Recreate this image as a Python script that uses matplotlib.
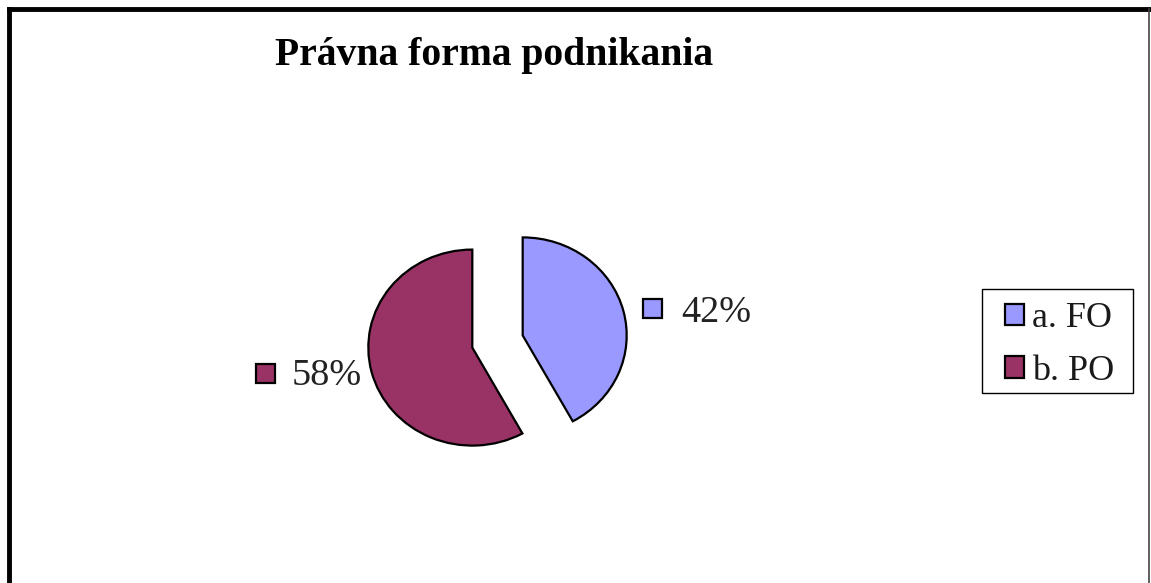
import matplotlib
matplotlib.use("Agg")
import matplotlib.pyplot as plt
from matplotlib.patches import Rectangle
from matplotlib.lines import Line2D

title = "Právna forma podnikania"
categories = ["a. FO", "b. PO"]
values = [42, 58]
colors = ["#9999FF", "#993366"]

W, H = 1151, 583
fig = plt.figure(figsize=(W / 100, H / 100), dpi=100)
plt.rcParams['font.family'] = ['Liberation Serif', 'DejaVu Serif']

cx, cy = 497.5, 341.5   # pie centre in pixels (from top-left)
rx, ry = 104.0, 98.0
ax = fig.add_axes([0, 0, 1, 1])
wedges, _ = ax.pie(values, colors=colors, startangle=90, counterclock=False,
                   explode=[0.25, 0.25],
                   wedgeprops=dict(edgecolor="black", linewidth=1.6))
ax.set_aspect('auto')
ax.set_xlim(-cx / rx, (W - cx) / rx)
ax.set_ylim(-(H - cy) / ry, cy / ry)
ax.axis('off')

def fx(px):
    return px / W

def fy(py):
    return 1 - py / H

# title
fig.text(fx(494), fy(65), title, ha='center', va='baseline',
         fontsize=28.5, fontweight='bold', color='black')

# percent labels with keys
lab_pos = [(681, 322, 643, 299), (292, 385, 256, 364)]
for (tx, ty, sx, sy), v, c in zip(lab_pos, values, colors):
    fig.text(fx(tx), fy(ty), f"{v}%", ha='left', va='baseline',
             fontsize=27.5, color='#222222')
    fig.patches.append(Rectangle((fx(sx), fy(sy + 19)), 19 / W, 19 / H,
                                 transform=fig.transFigure, facecolor=c,
                                 edgecolor='black', linewidth=1.6))

# legend (frame drawn separately)
leg = fig.legend(wedges, categories, loc='upper left',
                 bbox_to_anchor=(fx(1005), fy(302)), bbox_transform=fig.transFigure,
                 fontsize=26, frameon=False, handlelength=0.53,
                 handleheight=0.53, handletextpad=0.22, borderpad=0,
                 labelspacing=0.55, borderaxespad=0)
for t in leg.get_texts():
    t.set_color('#1a1a1a')
fig.patches.append(Rectangle((fx(982), fy(393)), (1133 - 982) / W, (393 - 289) / H,
                             transform=fig.transFigure, facecolor='none',
                             edgecolor='black', linewidth=1.0))

# outer border (chart area frame)
fig.add_artist(Line2D([fx(9), fx(9)], [fy(9), 0], transform=fig.transFigure,
                      color='black', linewidth=3.5))
fig.add_artist(Line2D([fx(9), fx(1149)], [fy(9), fy(9)], transform=fig.transFigure,
                      color='black', linewidth=3.5))
fig.add_artist(Line2D([fx(1149), fx(1149)], [fy(9), 0], transform=fig.transFigure,
                      color='#444444', linewidth=1.2))

fig.savefig("out.png", dpi=100, facecolor='white')
